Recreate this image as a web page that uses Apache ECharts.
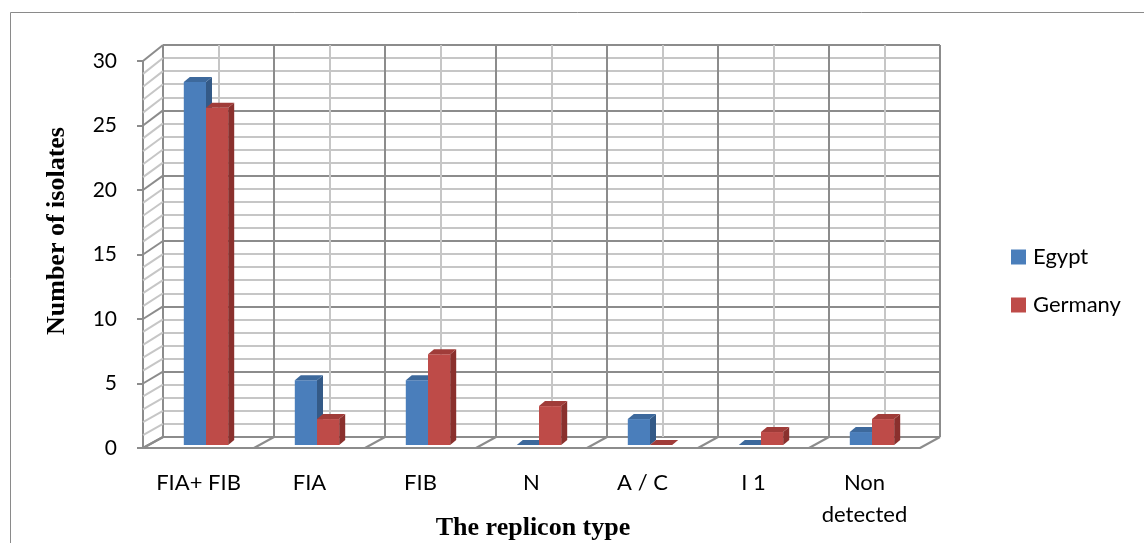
<!DOCTYPE html>
<html><head><meta charset="utf-8">
<script src="https://cdn.jsdelivr.net/npm/echarts@6/dist/echarts.min.js"></script>
<style>html,body{margin:0;padding:0;background:#fff}#c{width:1144px;height:543px}</style>
</head><body><div id="c"></div>
<script>
const categories = ['FIA+ FIB', 'FIA', 'FIB', 'N', 'A / C', 'I 1', 'Non\ndetected'];
const egypt = [28, 5, 5, 0, 2, 0, 1];
const germany = [26, 2, 7, 3, 0, 1, 2];
const seriesNames = ['Egypt', 'Germany'];
const yMax = 30;

const MAJOR = '#8c8c8c', MINOR = '#c6c6c6';
const FONT = 'Lato';
const chart = echarts.init(document.getElementById('c'), null, {renderer: 'canvas'});

const faceColors = [
  {front: '#4a7ebb', side: '#345a87', top: '#3d699c'},
  {front: '#be4b48', side: '#8a302d', top: '#a03c39'}
];

function barRender(si) {
  return function (params, api) {
    const i = api.value(0), v = api.value(1);
    const base = api.coord([i, 0]);
    const top = api.coord([i, v]);
    const band = api.size([1, 0])[0];
    const w = band * 0.2;
    const x0 = base[0] + (si === 0 ? -w : 0);
    const dx = 6, dy = -5;
    const c = faceColors[si];
    const children = [];
    if (base[1] - top[1] > 0) {
      children.push({type: 'rect', shape: {x: x0, y: top[1], width: w, height: base[1] - top[1]}, style: {fill: c.front}});
      children.push({type: 'polygon', shape: {points: [[x0 + w, top[1]], [x0 + w + dx, top[1] + dy], [x0 + w + dx, base[1] + dy], [x0 + w, base[1]]]}, style: {fill: c.side}});
    }
    children.push({type: 'polygon', shape: {points: [[x0, top[1]], [x0 + dx, top[1] + dy], [x0 + w + dx, top[1] + dy], [x0 + w, top[1]]]}, style: {fill: c.top}});
    return {type: 'group', children};
  };
}

function wallRender(params, api) {
  const cs = params.coordSys;
  const children = [];
  for (let v = 0; v <= yMax; v++) {
    const f = [cs.x, api.coord([0, v])[1]];
    const b = chart.convertToPixel({xAxisIndex: 0, yAxisIndex: 0}, [0, v]);
    children.push({type: 'line', shape: {x1: f[0], y1: f[1], x2: b[0], y2: b[1]},
      style: {stroke: v % 5 === 0 ? MAJOR : MINOR, lineWidth: 2}});
  }
  for (let k = 0; k <= categories.length; k++) {
    const fx = cs.x + k * cs.width / categories.length;
    const fy = cs.y + cs.height;
    const b = chart.convertToPixel({xAxisIndex: 0, yAxisIndex: 0}, [2 * k, 0]);
    children.push({type: 'line', shape: {x1: fx, y1: fy, x2: b[0], y2: b[1]},
      style: {stroke: MAJOR, lineWidth: 2}});
  }
  return {type: 'group', children};
}

const option = {
  backgroundColor: '#fff',
  animation: false,
  grid: [
    {left: 163, top: 45, width: 777, height: 392},
    {left: 143, top: 61, width: 777, height: 387},
    {left: 150.5, top: 56, width: 777, height: 389}
  ],
  xAxis: [
    {gridIndex: 0, type: 'value', min: 0, max: categories.length * 2, interval: 1,
      axisLine: {show: false}, axisTick: {show: false}, axisLabel: {show: false},
      splitLine: {show: true, lineStyle: {color: [MAJOR, MINOR], width: 2}}},
    {gridIndex: 1, type: 'category', data: categories,
      axisLine: {show: true, lineStyle: {color: MAJOR, width: 2}}, axisTick: {show: false},
      axisLabel: {fontFamily: FONT, fontSize: 22, color: '#000', margin: 19, lineHeight: 32, interval: 0},
      splitLine: {show: false}},
    {gridIndex: 2, type: 'category', data: categories, show: false}
  ],
  yAxis: [
    {gridIndex: 0, type: 'value', min: 0, max: yMax, interval: 1,
      axisLine: {show: false}, axisTick: {show: false}, axisLabel: {show: false},
      splitLine: {show: true, lineStyle: {color: [MAJOR, MINOR, MINOR, MINOR, MINOR], width: 2}}},
    {gridIndex: 1, type: 'value', min: 0, max: yMax, interval: 5,
      axisLine: {show: true, lineStyle: {color: MAJOR, width: 2}},
      axisTick: {show: true, length: 6, lineStyle: {color: MAJOR, width: 2}},
      axisLabel: {fontFamily: FONT, fontSize: 21, color: '#000', margin: 26},
      splitLine: {show: false}},
    {gridIndex: 2, type: 'value', min: 0, max: yMax, show: false}
  ],
  legend: {
    data: seriesNames, orient: 'vertical', left: 1011, top: 245, padding: 0,
    itemWidth: 15, itemHeight: 15, itemGap: 24, icon: 'rect',
    textStyle: {fontFamily: FONT, fontSize: 22, lineHeight: 24, color: '#000', padding: [0, 0, 0, 2]}
  },
  graphic: [
    {type: 'rect', shape: {x: 10.5, y: 12.5, width: 1200, height: 600}, style: {fill: 'none', stroke: '#8a8a8a', lineWidth: 1}, z: -10},
    {type: 'text', x: 57, y: 231, rotation: Math.PI / 2, style: {text: 'Number of isolates', font: 'bold 26px "Liberation Serif"', fill: '#000', align: 'center', verticalAlign: 'middle'}},
    {type: 'text', x: 533, y: 528, style: {text: 'The replicon type', font: 'bold 26px "Liberation Serif"', fill: '#000', align: 'center', verticalAlign: 'middle'}}
  ],
  series: [
    {type: 'custom', name: '_wall', xAxisIndex: 1, yAxisIndex: 1, data: [[0, 0]], renderItem: wallRender, silent: true, z: 1},
    {type: 'custom', name: seriesNames[0], xAxisIndex: 2, yAxisIndex: 2, itemStyle: {color: faceColors[0].front},
      data: egypt.map((v, i) => [i, v]), encode: {x: 0, y: 1}, renderItem: barRender(0), z: 3},
    {type: 'custom', name: seriesNames[1], xAxisIndex: 2, yAxisIndex: 2, itemStyle: {color: faceColors[1].front},
      data: germany.map((v, i) => [i, v]), encode: {x: 0, y: 1}, renderItem: barRender(1), z: 4}
  ]
};
chart.setOption(option);
</script></body></html>
